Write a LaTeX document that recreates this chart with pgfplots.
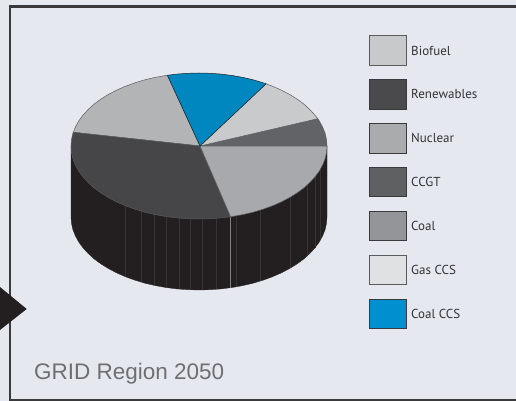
\documentclass[border=0pt]{standalone}
\usepackage{fontspec}
\setmainfont{PT Sans}
\newfontfamily\heros{Liberation Sans}
\usepackage{pgfplots}
\pgfplotsset{compat=1.18}
\definecolor{bgc}{HTML}{E5E9EF}
\definecolor{framec}{HTML}{3A3A3C}
\definecolor{sidec}{HTML}{231F20}
\definecolor{sidel}{HTML}{353334}
\definecolor{edgec}{HTML}{5A5B5D}
\begin{document}
\begin{tikzpicture}
\begin{axis}[at={(0pt,0pt)},anchor=south west,width=516pt,height=401pt,scale only axis,
  xmin=0,xmax=516,ymin=0,ymax=401,y dir=reverse,axis lines=none,
  every axis plot/.append style={mark=none}]
% background
\addplot[fill=bgc,draw=none] coordinates {(0,0) (516,0) (516,401) (0,401)} -- cycle;
% frame
\addplot[draw=framec,line width=2.2pt] coordinates {(516,6.5) (10,6.5) (10,400) (516,400)};
% arrow
\addplot[fill=sidec,draw=none] coordinates {(0,287) (26.7,309) (0,330)} -- cycle;
% pie side
\addplot[fill=sidec,draw=sidec,line width=0.3pt] coordinates {(71,146) (71,217) (71.5,223.4) (72.9,229.7) (75.4,235.9) (78.7,242) (83,247.8) (88.2,253.5) (94.1,258.9) (100.9,263.9) (108.5,268.6) (116.7,272.9) (125.6,276.8) (135,280.2) (144.9,283.2) (155.2,285.6) (165.9,287.5) (176.8,288.9) (187.8,289.7) (199,290) (210.2,289.7) (221.2,288.9) (232.1,287.5) (242.8,285.6) (253.1,283.2) (263,280.2) (272.4,276.8) (281.3,272.9) (289.5,268.6) (297.1,263.9) (303.9,258.9) (309.8,253.5) (315,247.8) (319.3,242) (322.6,235.9) (325.1,229.7) (326.5,223.4) (327,217) (327,146)} -- cycle;
% faint streaks on the side
\addplot[draw=sidel,line width=0.5pt] coordinates {(125.3,205.7) (125.3,276.7)};
\addplot[draw=sidel,line width=0.5pt] coordinates {(141.7,211.3) (141.7,282.3)};
\addplot[draw=sidel,line width=0.5pt] coordinates {(154.3,214.4) (154.3,285.4)};
\addplot[draw=sidel,line width=0.5pt] coordinates {(166.7,216.7) (166.7,287.7)};
\addplot[draw=sidel,line width=0.5pt] coordinates {(179.3,218.1) (179.3,289.1)};
\addplot[draw=sidel,line width=0.5pt] coordinates {(190,218.8) (190,289.8)};
\addplot[draw=sidel,line width=0.5pt] coordinates {(202.7,219) (202.7,290)};
\addplot[draw=sidel,line width=0.5pt] coordinates {(216.7,218.3) (216.7,289.3)};
\addplot[draw=gray,line width=0.6pt] coordinates {(230,216.8) (230,287.8)};
\addplot[draw=sidel,line width=0.5pt] coordinates {(236,215.9) (236,286.9)};
\addplot[draw=sidel,line width=0.5pt] coordinates {(260.7,210) (260.7,281)};
\addplot[draw=sidel,line width=0.5pt] coordinates {(290.7,197) (290.7,268)};
\addplot[draw=sidel,line width=0.5pt] coordinates {(307.3,184.9) (307.3,255.9)};
\addplot[draw=sidel,line width=0.5pt] coordinates {(315,176.9) (315,247.9)};
\addplot[draw=sidel,line width=0.5pt] coordinates {(320.7,168.6) (320.7,239.6)};
% slices
\addplot[fill={rgb,255:red,98;green,99;blue,102},draw=edgec,line width=0.5pt] coordinates {(200,146) (327,146) (326.5,139.6) (325.1,133.3) (322.6,127.1) (319.3,121) (317.7,118.7)} -- cycle;
\addplot[fill={rgb,255:red,201;green,202;blue,204},draw=edgec,line width=0.5pt] coordinates {(200,146) (317.7,118.7) (315,115.2) (309.8,109.5) (303.9,104.1) (297.1,99.1) (289.5,94.4) (281.3,90.1) (272.4,86.2) (266.1,83.8)} -- cycle;
\addplot[fill={rgb,255:red,179;green,180;blue,182},draw=edgec,line width=0.5pt] coordinates {(200,146) (167.4,75.3) (165.9,75.5) (155.2,77.4) (144.9,79.8) (135,82.8) (125.6,86.2) (116.7,90.1) (108.5,94.4) (100.9,99.1) (94.1,104.1) (88.2,109.5) (83,115.2) (78.7,121) (75.4,127.1) (73.3,132.3)} -- cycle;
\addplot[fill={rgb,255:red,70;green,70;blue,72},draw=edgec,line width=0.5pt] coordinates {(200,146) (73.3,132.3) (72.9,133.3) (71.5,139.6) (71,146) (71.5,152.4) (72.9,158.7) (75.4,164.9) (78.7,171) (83,176.8) (88.2,182.5) (94.1,187.9) (100.9,192.9) (108.5,197.6) (116.7,201.9) (125.6,205.8) (135,209.2) (144.9,212.2) (155.2,214.6) (165.9,216.5) (176.8,217.9) (187.8,218.7) (199,219) (210.2,218.7) (221.2,217.9) (230.6,216.7)} -- cycle;
\addplot[fill={rgb,255:red,167;green,169;blue,172},draw=edgec,line width=0.5pt] coordinates {(200,146) (230.6,216.7) (232.1,216.5) (242.8,214.6) (253.1,212.2) (263,209.2) (272.4,205.8) (281.3,201.9) (289.5,197.6) (297.1,192.9) (303.9,187.9) (309.8,182.5) (315,176.8) (319.3,171) (322.6,164.9) (325.1,158.7) (326.5,152.4) (327,146)} -- cycle;
\addplot[fill={rgb,255:red,0;green,135;blue,192},draw=sidec,line width=0.5pt] coordinates {(200,146) (266.1,83.8) (263,82.8) (253.1,79.8) (242.8,77.4) (232.1,75.5) (221.2,74.1) (210.2,73.3) (199,73) (187.8,73.3) (176.8,74.1) (167.4,75.3)} -- cycle;
% legend swatches
\addplot[fill={rgb,255:red,200;green,201;blue,203},draw=edgec,line width=0.8pt] coordinates {(369.5,35.5) (406.5,35.5) (406.5,65) (369.5,65)} -- cycle;
\addplot[fill={rgb,255:red,74;green,74;blue,76},draw=framec,line width=0.8pt] coordinates {(369.5,79.5) (406.5,79.5) (406.5,109) (369.5,109)} -- cycle;
\addplot[fill={rgb,255:red,170;green,171;blue,173},draw=framec,line width=0.8pt] coordinates {(369.5,123.5) (406.5,123.5) (406.5,153) (369.5,153)} -- cycle;
\addplot[fill={rgb,255:red,95;green,96;blue,98},draw=framec,line width=0.8pt] coordinates {(369.5,167) (406.5,167) (406.5,196.5) (369.5,196.5)} -- cycle;
\addplot[fill={rgb,255:red,147;green,149;blue,152},draw=framec,line width=0.8pt] coordinates {(369.5,211) (406.5,211) (406.5,240.5) (369.5,240.5)} -- cycle;
\addplot[fill={rgb,255:red,224;green,225;blue,226},draw=edgec,line width=0.8pt] coordinates {(369.5,255) (406.5,255) (406.5,284.5) (369.5,284.5)} -- cycle;
\addplot[fill={rgb,255:red,0;green,144;blue,207},draw=framec,line width=0.8pt] coordinates {(369.5,299) (406.5,299) (406.5,328.5) (369.5,328.5)} -- cycle;
% labels
\begin{scope}[every node/.style={anchor=west,inner sep=0pt,font=\fontsize{13}{15}\selectfont,text={rgb,255:red,50;green,50;blue,52}}]
\node at (axis cs:411,51) {Biofuel};
\node at (axis cs:411,94) {Renewables};
\node at (axis cs:411,138) {Nuclear};
\node at (axis cs:411,182) {CCGT};
\node at (axis cs:411,226) {Coal};
\node at (axis cs:411,270) {Gas CCS};
\node at (axis cs:411,314) {Coal CCS};
\end{scope}
\node[anchor=west,inner sep=0pt,font=\heros\fontsize{22.5}{26}\selectfont,text={rgb,255:red,110;green,111;blue,113}] at (axis cs:34,374) {GRID Region 2050};
\end{axis}
\end{tikzpicture}
\end{document}
